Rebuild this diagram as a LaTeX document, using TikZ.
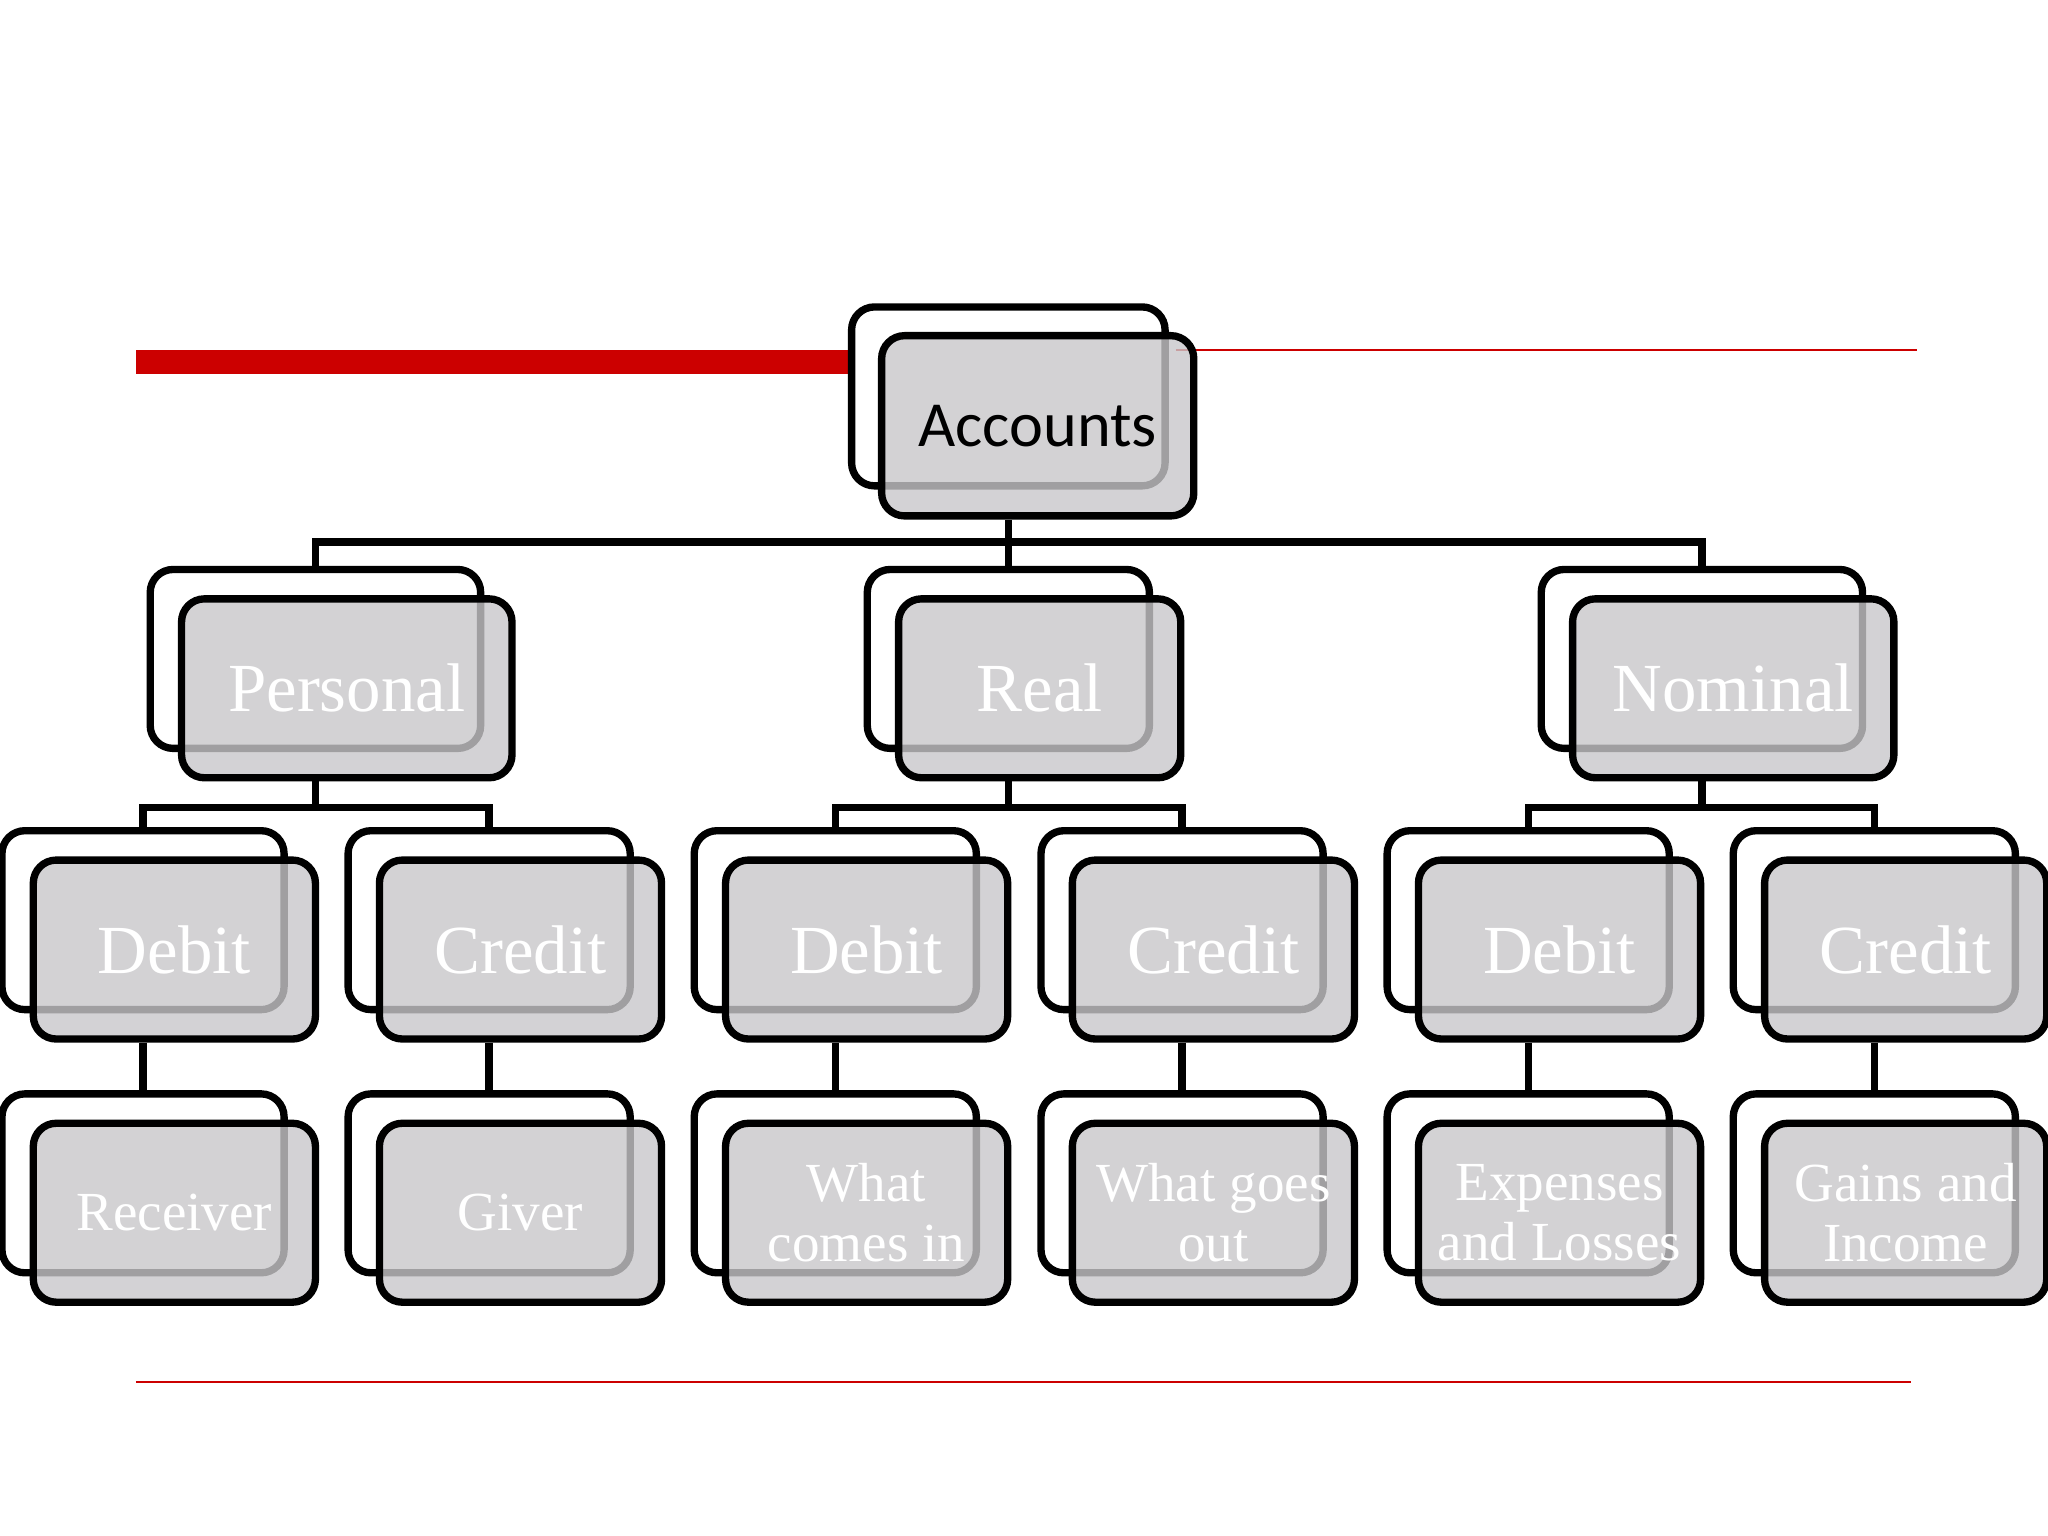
\documentclass[tikz,border=0pt]{standalone}
\usepackage{fontspec}
\setmainfont{Liberation Serif}
\newfontfamily\calib{Carlito}
\tikzset{
 backbox/.style={draw=black,line width=1.6pt,fill=white,rounded corners=5pt,inner sep=0pt},
 frontbox/.style={draw=black,line width=1.6pt,fill={rgb,255:red,200;green,199;blue,202},fill opacity=0.8,text opacity=1,rounded corners=5pt,inner sep=0pt,text=white,align=center},
 conn/.style={line width=1.6pt,black}
}
\newcommand{\bx}[7]{%
 \node[backbox,minimum width=#4cm,minimum height=#5cm] (#1b) at (#2,#3) {};
 \node[frontbox,minimum width=#4cm,minimum height=#5cm,font=#7] (#1) at (#2+0.24,#3-0.225) {#6};}
\begin{document}
\begin{tikzpicture}
\useasboundingbox (0,0) rectangle (15.68,-11.76);
\fill[red!80!black] (1.04,-2.68) rectangle (6.5,-2.86);
\draw[red!80!black,line width=0.5pt] (9.0,-2.68) -- (14.68,-2.68);
\draw[red!80!black,line width=0.4pt] (1.04,-10.58) -- (14.63,-10.58);
% level 1
\node[backbox,minimum width=2.4cm,minimum height=1.37cm] (accb) at (7.72,-3.035) {};
\node[frontbox,minimum width=2.39cm,minimum height=1.38cm,text=black,font=\calib\fontsize{14}{16}\selectfont] (acc) at (7.945,-3.26) {Accounts};
% level 2
\def\LtwoF{\fontsize{15}{17}\selectfont}
\bx{per}{2.415}{-5.045}{2.53}{1.37}{Personal}{\LtwoF}
\bx{rea}{7.72}{-5.045}{2.16}{1.37}{Real}{\LtwoF}
\bx{nom}{13.03}{-5.045}{2.46}{1.37}{Nominal}{\LtwoF}
% level 3
\bx{pd}{1.095}{-7.045}{2.16}{1.37}{Debit}{\LtwoF}
\bx{pc}{3.745}{-7.045}{2.16}{1.37}{Credit}{\LtwoF}
\bx{rd}{6.395}{-7.045}{2.16}{1.37}{Debit}{\LtwoF}
\bx{rc}{9.05}{-7.045}{2.16}{1.37}{Credit}{\LtwoF}
\bx{nd}{11.70}{-7.045}{2.16}{1.37}{Debit}{\LtwoF}
\bx{nc}{14.35}{-7.045}{2.16}{1.37}{Credit}{\LtwoF}
% level 4
\def\LfF{\fontsize{12}{13}\selectfont}
\bx{pd4}{1.095}{-9.06}{2.16}{1.37}{Receiver}{\LfF}
\bx{pc4}{3.745}{-9.06}{2.16}{1.37}{Giver}{\LfF}
\bx{rd4}{6.395}{-9.06}{2.16}{1.37}{What\\comes in}{\LfF}
\bx{rc4}{9.05}{-9.06}{2.16}{1.37}{What goes\\out}{\LfF}
\bx{nd4}{11.70}{-9.06}{2.16}{1.37}{Expenses\\and Losses}{\LfF}
\bx{nc4}{14.35}{-9.06}{2.16}{1.37}{Gains and\\Income}{\LfF}
% connectors
\draw[conn] (acc.south -| accb) -- (7.72,-4.15) coordinate (jacc);
\draw[conn] (jacc) -| (perb.north);
\draw[conn] (jacc) -- (reab.north);
\draw[conn] (jacc) -| (nomb.north);
\foreach \p/\a/\b in {per/pd/pc,rea/rd/rc,nom/nd/nc}{
 \draw[conn] (\p.south -| \p b) -- ++(0,-0.2) coordinate (j\p);
 \draw[conn] (j\p) -| (\a b.north);
 \draw[conn] (j\p) -| (\b b.north);}
\foreach \a in {pd,pc,rd,rc,nd,nc}{
 \draw[conn] (\a.south -| \a b) -- (\a 4b.north);}
\end{tikzpicture}
\end{document}
